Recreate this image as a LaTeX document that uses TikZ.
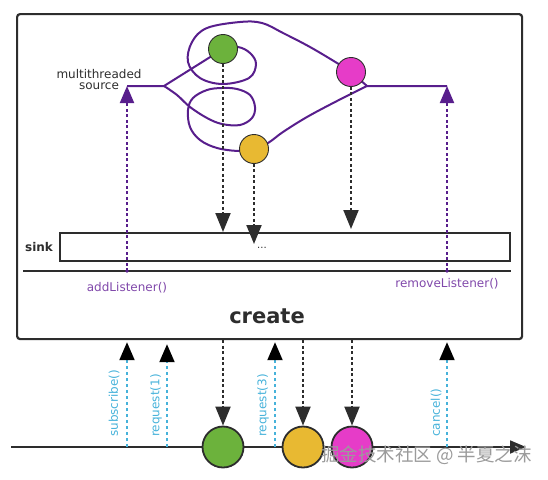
\documentclass[tikz,border=0pt]{standalone}
\usepackage{fontspec}
\setmainfont{DejaVu Sans}
\newfontfamily\cjk{Noto Sans CJK SC}
\usetikzlibrary{arrows.meta}
\definecolor{srcpurple}{RGB}{88,30,140}
\definecolor{lblpurple}{RGB}{128,72,170}
\definecolor{reqblue}{RGB}{70,178,218}
\definecolor{ballgreen}{RGB}{108,178,60}
\definecolor{ballyellow}{RGB}{232,185,50}
\definecolor{ballpink}{RGB}{230,60,200}
\definecolor{ink}{RGB}{45,45,45}
\definecolor{wmgray}{RGB}{155,155,155}
\begin{document}
\begin{tikzpicture}[x=1pt,y=-1pt,
  frame/.style={draw=ink, line width=2.2pt, rounded corners=3pt, inner sep=0pt},
  srcline/.style={draw=srcpurple, line width=2pt},
  listen/.style={srcpurple, line width=2pt, dash pattern=on 3pt off 2.5pt, -{Triangle[length=17pt,width=14pt]}},
  emit/.style={ink, line width=2pt, dash pattern=on 3pt off 2.5pt, -{Triangle[length=19pt,width=15pt]}},
  req/.style={reqblue, line width=2pt, dash pattern=on 3.5pt off 2.5pt, -{Triangle[length=18pt,width=15pt,color=black]}},
  ball/.style={circle, draw=ink, line width=0.9pt, minimum size=29pt, inner sep=0pt},
  bigball/.style={circle, draw=ink, line width=1.8pt, minimum size=41pt, inner sep=0pt},
  lbl/.style={font=\fontsize{12}{11}\selectfont, inner sep=0pt},
  reqlbl/.style={lbl, text=reqblue, rotate=90, anchor=west},
]
\useasboundingbox (0,0) rectangle (548,479);

% outer box
\node[frame, minimum width=505pt, minimum height=325pt, anchor=north west] (create) at (16,13) {};
\node[font=\fontsize{21}{21}\selectfont\bfseries, text=ink] (createlbl) at (267,316) {create};

% sink
\node[draw=ink, line width=1.8pt, minimum width=450pt, minimum height=28pt, anchor=north west, inner sep=0pt] (sink) at (59,232) {};
\node[font=\fontsize{12}{12}\selectfont\bfseries, text=ink] (sinklbl) at (39,247) {sink};
\coordinate (sepL) at (23,271);
\coordinate (sepR) at (511,271);
\draw[ink, line width=1.8pt] (sepL) -- (sepR);

% source
\node[lbl, align=center, text=ink] (srclbl) at (99,80) {multithreaded\\source};
\coordinate (J1) at (164,86);
\coordinate (J2) at (367,86);
\coordinate (srcL) at (127,86);
\coordinate (srcR) at (447,86);
\coordinate (cG) at (223,49);
\coordinate (cP) at (351,72);
\coordinate (cY) at (254,149);

\draw[srcline] (srcL) -- (J1) -- (cG);
\draw[srcline] plot[smooth, tension=0.6] coordinates {(223,49) (238,47) (250,53) (256,64) (249,78) (223,84) (200,78) (188,62) (192,42) (207,28) (240,22) (262,23) (283,33) (310,47) (337,63) (351,72)};
\draw[srcline] plot[smooth, tension=0.6] coordinates {(164,86) (177,95) (190,107) (207,118) (222,124) (240,125) (252,118) (255,107) (250,95) (237,89) (222,88) (207,90) (193,98) (188,110) (190,127) (200,140) (217,148) (239,151) (254,149)};
\draw[srcline] (cP) -- (J2) -- (srcR);
\draw[srcline] plot[smooth, tension=0.6] coordinates {(367,86) (337,101) (307,117) (283,132) (268,143) (254,149)};

\node[ball, fill=ballgreen] (gA) at (cG) {};
\node[ball, fill=ballpink] (pA) at (cP) {};
\node[ball, fill=ballyellow] (yA) at (cY) {};

% listeners
\coordinate (addL) at (127,271);
\coordinate (remL) at (447,271);
\draw[listen] (addL) -- (srcL);
\draw[listen] (remL) -- (srcR);
\fill[srcpurple] (addL) circle (1.8pt);
\fill[srcpurple] (remL) circle (1.8pt);
\node[lbl, text=lblpurple] (addlbl) at (127,288) {addListener()};
\node[lbl, text=lblpurple] (remlbl) at (447,284) {removeListener()};

% emissions into sink
\draw[emit] (gA.south) -- (gA.south |- sink.north);
\draw[emit] (yA.south) -- ([yshift=-12pt]yA.south |- sink.north);
\draw[emit] (pA.south) -- ([yshift=3pt]pA.south |- sink.north);
\node[font=\fontsize{10}{10}\selectfont, text=ink, inner sep=0pt] (dots) at (262,248) {...};

% timeline
\coordinate (tS) at (11,447);
\coordinate (tE) at (526,447);
\draw[ink, line width=1.8pt, -{Triangle[length=16pt,width=13pt]}] (tS) -- (tE);
\node[bigball, fill=ballgreen] (gB) at (223,447) {};
\node[bigball, fill=ballyellow] (yB) at (303,447) {};
\node[bigball, fill=ballpink] (pB) at (352,447) {};

\draw[emit] (create.south -| gB.north) -- (gB.north);
\draw[emit] (create.south -| yB.north) -- (yB.north);
\draw[emit] (create.south -| pB.north) -- (pB.north);

% requests
\coordinate (sub) at (127,447);
\coordinate (r1) at (167,447);
\coordinate (r3) at (275,447);
\coordinate (can) at (447,447);
\draw[req] (sub) -- ([yshift=-2pt]sub |- create.south);
\draw[req] (r1) -- ([yshift=-4pt]r1 |- create.south);
\draw[req] (r3) -- ([yshift=-2pt]r3 |- create.south);
\draw[req] (can) -- ([yshift=-2pt]can |- create.south);
\node[reqlbl] (sublbl) at (114,437) {subscribe()};
\node[reqlbl] (r1lbl) at (156,437) {request(1)};
\node[reqlbl] (r3lbl) at (263,437) {request(3)};
\node[reqlbl] (canlbl) at (436,437) {cancel()};

% watermark
\node[font=\cjk\fontsize{18.5}{18.5}\selectfont, text=wmgray, anchor=west, inner sep=0pt] (wm) at (321,455) {掘金技术社区 @ 半夏之沫};
\end{tikzpicture}
\end{document}
